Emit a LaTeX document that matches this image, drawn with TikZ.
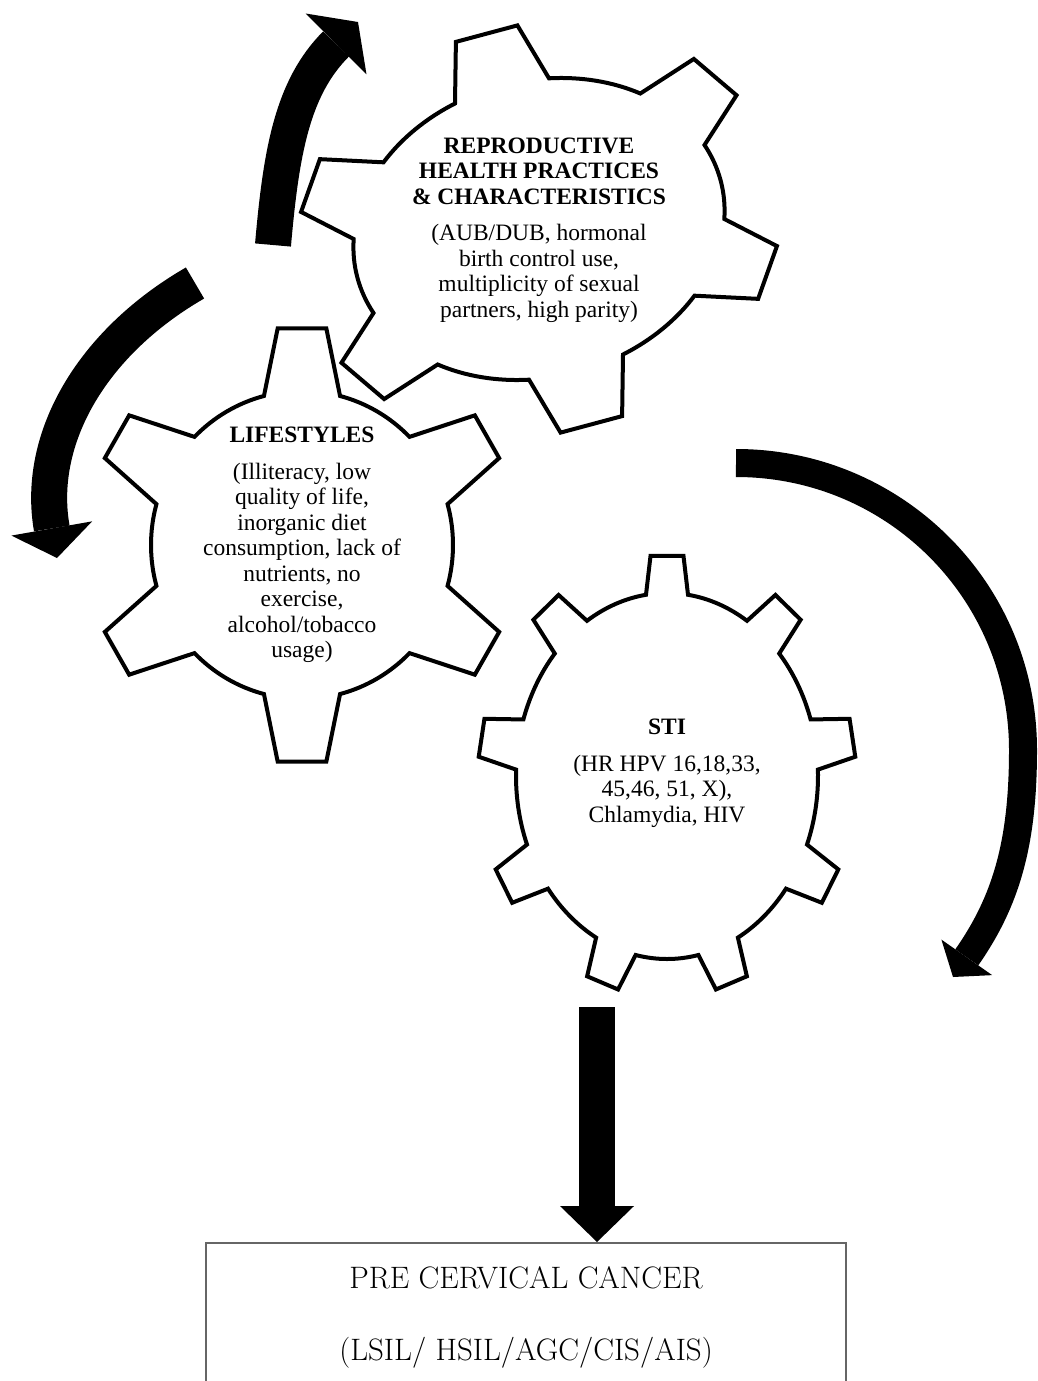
\documentclass[tikz,border=0pt]{standalone}
\usepackage{fontspec}
\newfontfamily\gearfont{Liberation Serif}
\usetikzlibrary{arrows.meta, positioning}

% gear outline: [scope options]{x radius}{y radius}{tooth height}{teeth}{first tooth angle}{root half width}{tip half width}
\newcommand{\drawgear}[8][]{%
  \begin{scope}[#1]
    \pgfmathsetmacro{\gearstep}{360/#5}
    \pgfmathsetmacro{\tipx}{#2+#4}
    \pgfmathsetmacro{\tipy}{#3+#4}
    \draw[gearline] ({#6-#7}:{#2pt} and {#3pt})
      \foreach \k [evaluate=\k as \ang using #6+(\k-1)*\gearstep] in {1,...,#5} {
        -- ({\ang-#8}:{\tipx pt} and {\tipy pt})
        -- ({\ang+#8}:{\tipx pt} and {\tipy pt})
        -- ({\ang+#7}:{#2pt} and {#3pt})
        arc[start angle={\ang+#7}, end angle={\ang+\gearstep-#7}, x radius=#2pt, y radius=#3pt]
      } -- cycle;
  \end{scope}}

\begin{document}
\begin{tikzpicture}[
    x=1pt, y=1pt,
    gearline/.style={draw, line width=4pt, fill=white},
    gearlabel/.style={align=center, font=\gearfont\fontsize{23.5}{25.5}\selectfont},
    flow/.style={line width=36pt, -{Triangle[length=30pt, width=82pt, line width=0pt]}},
    outbox/.style={rectangle, draw=black!60, line width=1.5pt, minimum width=640pt, minimum height=150pt, align=center, font=\fontsize{31}{72}\selectfont}
]
    \useasboundingbox (0,0) rectangle (1038,-1381);
    \clip (0,0) rectangle (1038,-1381);

    % gears
    \drawgear[shift={(539,-229)}, rotate=15]{188}{148}{56}{6}{90}{15}{7.5}
    \drawgear[shift={(302,-545)}]{151}{154}{64}{6}{90}{14.6}{6.5}
    \drawgear[shift={(667,-776)}]{151}{183}{38}{9}{90}{8}{5}

    % labels
    \node[gearlabel] (repro) at (539,-230) {\textbf{REPRODUCTIVE}\\\textbf{HEALTH PRACTICES}\\\textbf{\& CHARACTERISTICS}\\[11pt]
        (AUB/DUB, hormonal\\birth control use,\\multiplicity of sexual\\partners, high parity)};
    \node[gearlabel] (life) at (302,-545) {\textbf{LIFESTYLES}\\[11pt]
        (Illiteracy, low\\quality of life,\\inorganic diet\\consumption, lack of\\nutrients, no\\exercise,\\alcohol/tobacco\\usage)};
    \node[gearlabel] (sti) at (667,-773) {\textbf{STI}\\[11pt]
        (HR HPV 16,18,33,\\45,46, 51, X),\\Chlamydia, HIV};
    \node[outbox, anchor=north] (cancer) at (526,-1242) {PRE CERVICAL CANCER\\(LSIL/ HSIL/AGC/CIS/AIS)};

    % arrows
    \coordinate (a1s) at (273,-245);
    \coordinate (a1e) at (358,-22);
    \coordinate (a2s) at (195,-283);
    \coordinate (a2e) at (57,-558);
    \coordinate (a3s) at (736,-463);
    \coordinate (a3m) at (1023,-750);
    \coordinate (a3e) at (953,-977);
    \coordinate (a4s) at (597,-1007);

    \draw[flow, -{Triangle[length=31pt, width=86pt, line width=0pt]}] (a1s) to[out=85, in=225] (a1e);
    \draw[flow] (a2s) to[out=210, in=100] (a2e);
    \draw[flow, line width=28pt, -{Triangle[length=24pt, width=62pt, line width=0pt]}] (a3s) to[out=0, in=90] (a3m) to[out=-90, in=55] (a3e);
    \draw[flow, -{Triangle[length=36pt, width=74pt, line width=0pt]}] (a4s) -- (a4s |- cancer.north);
\end{tikzpicture}
\end{document}
